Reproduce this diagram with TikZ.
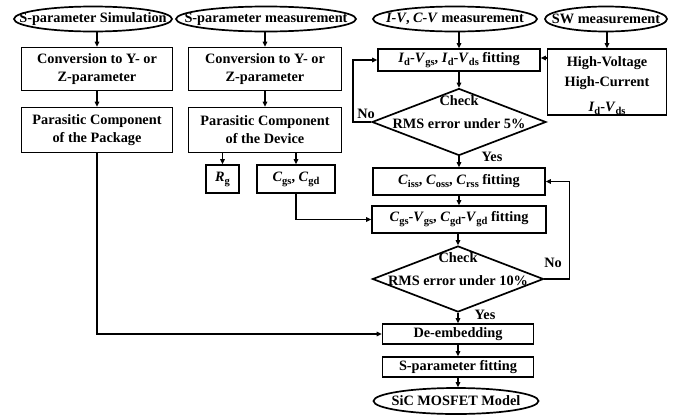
\documentclass[tikz,border=0pt]{standalone}
\usepackage{fontspec}
\setmainfont{Liberation Serif}
\usetikzlibrary{arrows.meta,shapes.geometric}
\newcommand\sbs[1]{\raisebox{-0.45ex}{\fontsize{10.5}{12}\selectfont #1}}
\newcommand\iv[1]{\textit{#1}}
\tikzset{
  every node/.style={font=\fontsize{14.3}{18}\selectfont\bfseries, inner sep=0pt},
  box/.style={draw, line width=1.7pt, rectangle, align=center},
  oval/.style={draw, line width=1.7pt, ellipse, minimum height=25pt},
  dia/.style={draw, line width=1.7pt, diamond},
  link/.style={line width=1.7pt, -{Triangle[length=5pt,width=4.5pt]}},
}
\begin{document}
\begin{tikzpicture}[x=1pt,y=-1pt]
\useasboundingbox (0,0) rectangle (690,418);

% start ovals (outline first, text on top)
\node[oval, minimum width=158pt] (e1) at (93,19) {};
\node at (e1) {S-parameter Simulation};
\node[oval, minimum width=180pt] (e2) at (266,19) {};
\node at (e2) {S-parameter measurement};
\node[oval, minimum width=164pt] (e3) at (455,19) {};
\node at (e3) {\iv{I-V}, \iv{C-V} measurement};
\node[oval, minimum width=122pt] (e4) at (606,19) {};
\node at (e4) {SW measurement};

% left column
\node[box, minimum width=151pt, minimum height=43pt] (b1) at (97,69) {Conversion to Y- or\\Z-parameter};
\node[box, minimum width=151pt, minimum height=45pt] (b2) at (97,130) {Parasitic Component\\of the Package};

% second column
\node[box, minimum width=153pt, minimum height=43pt] (c1) at (265,69) {Conversion to Y- or\\Z-parameter};
\node[box, minimum width=153pt, minimum height=45pt] (c2) at (265,130) {Parasitic Component\\of the Device};
\node[box, minimum width=33pt, minimum height=28pt] (rg) at (222.5,179) {\iv{R}\sbs{g}};
\node[box, minimum width=78pt, minimum height=28pt] (cg) at (296,179) {\iv{C}\sbs{gs}, \iv{C}\sbs{gd}};

% right columns
\node[box, minimum width=162pt, minimum height=22pt] (f1) at (459,60) {\iv{I}\sbs{d}-\iv{V}\sbs{gs}, \iv{I}\sbs{d}-\iv{V}\sbs{ds} fitting};
\node[box, minimum width=119pt, minimum height=66pt] (hv) at (607,82) {};
\node[align=center] at (607,86) {High-Voltage\\[2pt]High-Current\\[7pt]\iv{I}\sbs{d}-\iv{V}\sbs{ds}};
\node[dia, minimum width=174pt, minimum height=67pt] (d1) at (459,122) {};
\node[align=center] at (459,112) {Check\\[5pt]RMS error under 5\%};

\node[box, minimum width=172pt, minimum height=27pt] (ci) at (459,181.5) {\iv{C}\sbs{iss}, \iv{C}\sbs{oss}, \iv{C}\sbs{rss} fitting};
\node[box, minimum width=174pt, minimum height=27pt] (cv) at (459,219.5) {\iv{C}\sbs{gs}-\iv{V}\sbs{gs}, \iv{C}\sbs{gd}-\iv{V}\sbs{gd} fitting};
\node[dia, minimum width=171pt, minimum height=66pt] (d2) at (458,279) {};
\node[align=center] at (458,269) {Check\\[5pt]RMS error under 10\%};

\node[box, minimum width=151pt, minimum height=20pt] (de) at (458,334) {De-embedding};
\node[box, minimum width=151pt, minimum height=20pt] (sp) at (458,367) {S-parameter fitting};
\node[oval, minimum width=165pt, minimum height=26pt] (sic) at (456,401) {};
\node at (sic) {SiC MOSFET Model};

% branch labels
\node (no1) at (366,114) {No};
\node (yes1) at (492,157) {Yes};
\node (no2) at (553,263) {No};
\node (yes2) at (485,315) {Yes};

% connectors
\draw[link] (e1.south -| b1) -- (b1);
\draw[link] (b1) -- (b2);
\draw[link] (e2.south -| c1) -- (c1);
\draw[link] (c1) -- (c2);
\draw[link] (c2.south -| rg) -- (rg);
\draw[link] (c2.south -| cg) -- (cg);
\draw[link] (e3.south -| f1) -- (f1);
\draw[link] (e4.south -| hv) -- (hv);
\draw[link] ([yshift=2pt]hv.west |- f1.east) -- ([yshift=2pt]f1.east);
\draw[link] (f1) -- (d1);
\draw[link] (d1.west) -- ++(-18,0) |- (f1.west);
\draw[link] (d1.south) -- (ci.north);
\draw[link] (ci) -- (cv);
\draw[link] (cg.south) |- (cv.west);
\draw[link] (cv.south -| d2) -- (d2.north);
\draw[link] (d2.east) -- ++(25,0) |- (ci.east);
\draw[link] (d2.south) -- (de.north);
\draw[link] (b2.south) |- (de.west);
\draw[link] (de) -- (sp);
\draw[link] (sp) -- (sp.south |- sic.north);
\end{tikzpicture}
\end{document}
